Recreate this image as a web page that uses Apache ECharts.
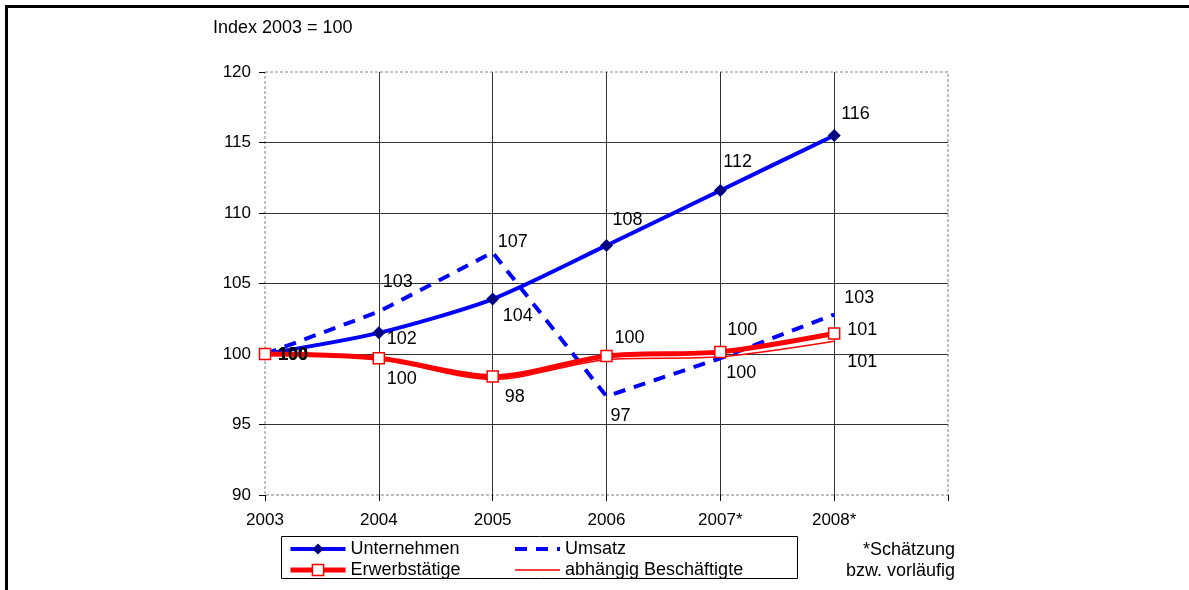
<!DOCTYPE html>
<html>
<head>
<meta charset="utf-8">
<script src="https://cdn.jsdelivr.net/npm/echarts@6/dist/echarts.min.js"></script>
<style>
  html, body { margin: 0; padding: 0; background: #fff; }
  #chart { width: 1189px; height: 590px; }
</style>
</head>
<body>
<div id="chart"></div>
<script>
// Index values, 2003 = 100
const years = ['2003', '2004', '2005', '2006', '2007*', '2008*', ''];
const unternehmen = [100, 101.5, 103.9, 107.7, 111.6, 115.5];
const umsatz = [100, 103.0, 107.2, 97.0, 99.7, 102.8];
const erwerbstaetige = [100, 99.7, 98.4, 99.85, 100.15, 101.45];
const abhaengig = [100, 99.65, 98.2, 99.6, 99.8, 100.9];
const yMin = 90, yMax = 120, yStep = 5;

const FONT = '"Liberation Sans", Arial, sans-serif';
const TEXT_SIZE = 18;
const AXIS_SIZE = 17;

// Per-point label placement (text left edge / vertical centre relative to the point); null = no label
const labelOffsets = {
  unternehmen: [[13, 1], [8, 6], [10, 17], [6, -25], [3, -28], [7, -21]],
  umsatz: [[13, 1], [4, -30], [5, -10], [4, 20], [7, -28], [10, -16]],
  erwerbstaetige: [[13, 1], [8, 21], [12, 20], [8, -18], [6, 21], [13, -4]],
  abhaengig: [[13, 1], null, null, null, null, [13, 21]]
};

function labelled(values, offsets) {
  return values.map(function (v, i) {
    const off = offsets[i];
    return {
      value: v,
      label: off
        ? { show: true, offset: off, fontWeight: i === 0 ? 'bold' : 'normal' }
        : { show: false }
    };
  });
}

const baseLabel = {
  show: true,
  position: 'inside',
  align: 'left',
  verticalAlign: 'middle',
  color: '#000',
  fontSize: TEXT_SIZE,
  fontFamily: FONT,
  formatter: function (p) { return String(Math.round(p.value)); }
};

const legendCommon = {
  orient: 'vertical', top: 540, padding: 0,
  itemHeight: 14, itemGap: 3,
  lineStyle: { width: 'inherit' },
  itemStyle: { borderWidth: 'inherit' },
  textStyle: { color: '#000', fontSize: TEXT_SIZE, fontFamily: FONT }
};

const chart = echarts.init(document.getElementById('chart'), null, { renderer: 'canvas' });

chart.setOption({
  animation: false,
  backgroundColor: '#fff',
  textStyle: { fontFamily: FONT, color: '#000' },
  grid: {
    left: 265, top: 72, width: 683, height: 423,
    show: true,
    backgroundColor: '#fff',
    borderColor: '#808080',
    borderWidth: 1,
    borderType: [3, 2]
  },
  xAxis: {
    type: 'category',
    data: years,
    boundaryGap: false,
    axisLine: { show: false },
    axisTick: { show: true, length: 6, lineStyle: { color: '#000', width: 1 } },
    axisLabel: { color: '#000', fontSize: AXIS_SIZE, fontFamily: FONT, margin: 17 },
    splitLine: { show: true, showMinLine: false, showMaxLine: false, lineStyle: { color: '#333', width: 1 } }
  },
  yAxis: {
    type: 'value',
    min: yMin, max: yMax, interval: yStep,
    axisLine: { show: false },
    axisTick: { show: true, length: 6, lineStyle: { color: '#000', width: 1 } },
    axisLabel: { color: '#000', fontSize: AXIS_SIZE, fontFamily: FONT, margin: 14 },
    splitLine: { show: true, showMinLine: false, showMaxLine: false, lineStyle: { color: '#333', width: 1 } }
  },
  legend: [
    Object.assign({}, legendCommon, {
      data: ['Unternehmen', 'Erwerbstätige'],
      left: 288, itemWidth: 55
    }),
    Object.assign({}, legendCommon, {
      data: ['Umsatz', 'abhängig Beschäftigte'],
      left: 513, itemWidth: 45
    })
  ],
  series: [
    {
      name: 'Unternehmen',
      type: 'line',
      data: labelled(unternehmen, labelOffsets.unternehmen),
      smooth: 0.25,
      symbol: 'diamond',
      symbolSize: 13,
      itemStyle: { color: '#000080' },
      lineStyle: { color: '#0000ff', width: 4 },
      label: baseLabel,
      z: 3
    },
    {
      name: 'Umsatz',
      type: 'line',
      data: labelled(umsatz, labelOffsets.umsatz),
      symbol: 'circle',
      symbolSize: 1,
      itemStyle: { color: 'rgba(0,0,0,0)' },
      lineStyle: { color: '#0000ff', width: 4, type: [12, 9] },
      label: baseLabel,
      z: 4
    },
    {
      name: 'abhängig Beschäftigte',
      type: 'line',
      data: labelled(abhaengig, labelOffsets.abhaengig),
      smooth: 0.3,
      symbol: 'circle',
      symbolSize: 1,
      itemStyle: { color: 'rgba(0,0,0,0)' },
      lineStyle: { color: '#ff0000', width: 1.5 },
      label: baseLabel,
      z: 5
    },
    {
      name: 'Erwerbstätige',
      type: 'line',
      data: labelled(erwerbstaetige, labelOffsets.erwerbstaetige),
      smooth: 0.3,
      symbol: 'rect',
      symbolSize: 11,
      itemStyle: { color: '#ffffff', borderColor: '#ff0000', borderWidth: 1.5 },
      lineStyle: { color: '#ff0000', width: 5 },
      label: baseLabel,
      z: 6
    }
  ],
  graphic: [
    {
      type: 'polyline',
      shape: { points: [[6.5, 590], [6.5, 6.5], [1189, 6.5]] },
      style: { stroke: '#000', lineWidth: 3, fill: null },
      silent: true
    },
    {
      type: 'rect',
      shape: { x: 281.5, y: 536.5, width: 516, height: 42 },
      style: { stroke: '#000', lineWidth: 1, fill: null },
      silent: true,
      z: -1
    },
    {
      type: 'text',
      left: 213, top: 19,
      style: { text: 'Index 2003 = 100', fill: '#000', fontSize: TEXT_SIZE, fontFamily: FONT }
    },
    {
      type: 'text',
      right: 1189 - 955, top: 541,
      style: { text: '*Schätzung', fill: '#000', fontSize: TEXT_SIZE, fontFamily: FONT, align: 'right' }
    },
    {
      type: 'text',
      right: 1189 - 955, top: 562,
      style: { text: 'bzw. vorläufig', fill: '#000', fontSize: TEXT_SIZE, fontFamily: FONT, align: 'right' }
    }
  ]
});
</script>
</body>
</html>
